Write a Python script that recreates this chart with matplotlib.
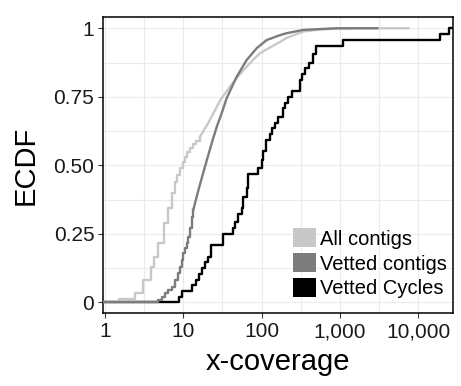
import numpy as np
import matplotlib
matplotlib.use("Agg")
import matplotlib.pyplot as plt
from matplotlib.patches import Patch
from matplotlib.ticker import FixedLocator, FixedFormatter, NullFormatter

plt.rcParams['font.family'] = ['Liberation Sans', 'DejaVu Sans']

# --- data (x-coverage, ECDF level) ---
# All contigs: discrete steps at low coverage, then near-continuous
all_step_x = [1.5, 2.4, 3.1, 3.9, 4.2, 4.8, 5.6, 6.4, 7.1, 7.8, 8.4, 9.1, 9.8, 10.5, 11.3, 12.2, 13.4, 14.5, 16.3]
all_step_y = [0.012, 0.035, 0.08, 0.13, 0.166, 0.215, 0.288, 0.345, 0.398, 0.44, 0.465, 0.489, 0.512, 0.532, 0.55, 0.563, 0.578, 0.59, 0.604]
all_smooth_x = [16.3, 20.9, 24.2, 30, 39.5, 50, 64.4, 80, 95.5, 128, 172, 209, 341, 557, 1480, 7500]
all_smooth_y = [0.604, 0.655, 0.69, 0.74, 0.787, 0.825, 0.86, 0.888, 0.909, 0.93, 0.95, 0.965, 0.988, 0.996, 1.0, 1.0]

# Vetted contigs
vet_step_x = [4.8, 5.3, 5.8, 6.4, 7.1, 7.8, 8.65, 9.1, 9.5, 10, 10.5, 11, 11.6, 12.2, 12.8, 13.4]
vet_step_y = [0.008, 0.018, 0.033, 0.045, 0.057, 0.081, 0.106, 0.13, 0.154, 0.179, 0.197, 0.215, 0.24, 0.27, 0.313, 0.337]
vet_smooth_x = [13.4, 15.6, 18.9, 23, 26.7, 30.9, 35.8, 48, 64.4, 86.4, 116, 172, 209, 341, 908, 3000]
vet_smooth_y = [0.337, 0.41, 0.495, 0.58, 0.64, 0.69, 0.745, 0.823, 0.884, 0.927, 0.957, 0.975, 0.982, 0.994, 1.0, 1.0]

# Vetted Cycles
cyc_x = [8.8, 9.5, 12.8, 14.4, 16.0, 17.5, 19.0, 20.8, 22.6, 32.0, 43.5, 45.7, 50.5, 55.6, 58.4, 64.5, 66.4,
         89, 100, 105, 114, 128, 135, 148, 164, 186, 199, 220, 242, 309, 325, 358, 403, 458, 496, 1107, 18950, 24950]
cyc_y = [0.021, 0.042, 0.063, 0.083, 0.104, 0.125, 0.146, 0.167, 0.208, 0.25, 0.271, 0.292, 0.323, 0.344, 0.385,
         0.417, 0.469, 0.49, 0.521, 0.552, 0.594, 0.615, 0.635, 0.656, 0.677, 0.708, 0.729, 0.75, 0.771, 0.812,
         0.833, 0.854, 0.875, 0.906, 0.937, 0.958, 0.979, 1.0]

labels = ["All contigs", "Vetted contigs", "Vetted Cycles"]
colors = ["#c8c8c8", "#7c7c7c", "#000000"]

xmin, xmax = 0.951, 28050

fig = plt.figure(figsize=(4.61, 3.86), dpi=100)
ax = fig.add_axes([103.3/461, 1 - 313.3/386, 350/461, 296/386])

lw = 1.7
# cycles
ax.step([xmin] + cyc_x + [xmax], [0] + cyc_y + [1.0], where='post', color=colors[2], lw=lw, zorder=3)
# all contigs
ax.step([xmin] + all_step_x, [0] + all_step_y, where='post', color=colors[0], lw=lw, zorder=4)
ax.plot(all_smooth_x, all_smooth_y, color=colors[0], lw=lw, zorder=4)
# vetted contigs
ax.step([xmin] + vet_step_x, [0] + vet_step_y, where='post', color=colors[1], lw=lw, zorder=5)
ax.plot(vet_smooth_x, vet_smooth_y, color=colors[1], lw=lw, zorder=5)

ax.set_xscale('log')
ax.set_xlim(xmin, xmax)
ax.set_ylim(-0.04, 1.04)

xt = [1, 10, 100, 1000, 10000]
ax.xaxis.set_major_locator(FixedLocator(xt))
ax.xaxis.set_major_formatter(FixedFormatter(["1", "10", "100", "1,000", "10,000"]))
ax.xaxis.set_minor_locator(FixedLocator([10**(k + 0.5) for k in range(5)]))
ax.xaxis.set_minor_formatter(NullFormatter())
ax.set_yticks([0, 0.25, 0.5, 0.75, 1])
ax.set_yticklabels(["0", "0.25", "0.50", "0.75", "1"])
ax.set_yticks([0.125, 0.375, 0.625, 0.875], minor=True)

ax.grid(True, which='both', color='#ebebeb', lw=0.8, zorder=0)
ax.set_axisbelow(True)
ax.tick_params(which='major', length=3.5, width=0.8, color='#333333', labelsize=15, pad=3, labelcolor='#1a1a1a')
ax.tick_params(which='minor', length=0)
for s in ax.spines.values():
    s.set_linewidth(1.1)
    s.set_color('black')

fig.text(25.8/461, 1 - 165/386, "ECDF", rotation=90, ha='center', va='center', fontsize=21)
fig.text(278/461, 1 - 370/386, "x-coverage", ha='center', va='baseline', fontsize=21)

handles = [Patch(facecolor=c, edgecolor='none') for c in colors]
ax.legend(handles, labels, loc='lower left', bbox_to_anchor=(0.543, 0.05), frameon=False,
          fontsize=14.5, handlelength=1.1, handleheight=1.1, handletextpad=0.2,
          labelspacing=0.22, borderpad=0, borderaxespad=0)

fig.savefig("out.png", dpi=100)
